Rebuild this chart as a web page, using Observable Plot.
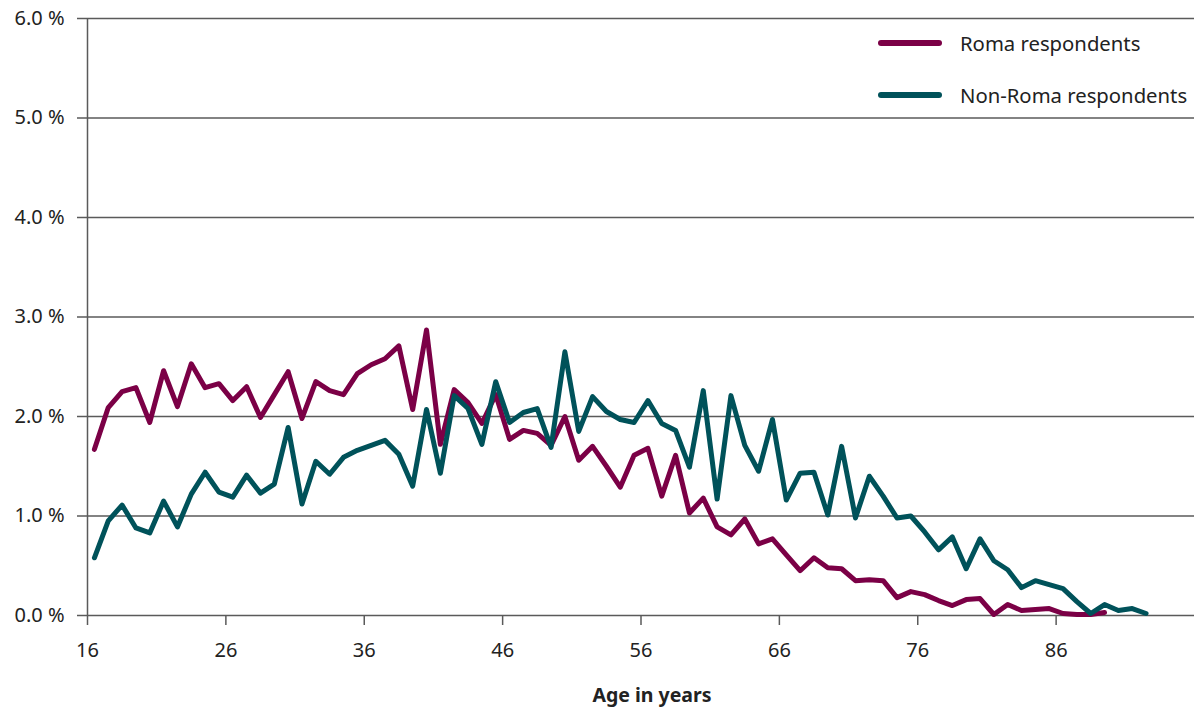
<!DOCTYPE html>
<html>
<head>
<meta charset="utf-8">
<script src="https://cdn.jsdelivr.net/npm/d3@7"></script>
<script src="https://cdn.jsdelivr.net/npm/@observablehq/plot@0.6"></script>
<style>
  body { margin: 0; background: #fff; }
  #wrap { position: relative; width: 1194px; height: 708px; font-family: "Noto Sans", sans-serif; color: #222; }
  .leg { position: absolute; display: flex; align-items: center; font-size: 20.3px; }
  .sw { width: 64px; height: 6px; border-radius: 3px; margin-right: 18px; }
  #xlabel { position: absolute; left: 0; width: 1304px; text-align: center; top: 681px; font-weight: bold; font-size: 19.5px; }
</style>
</head>
<body>
<div id="wrap"></div>
<script>
const seriesNames = ["Roma respondents", "Non-Roma respondents"];
const seriesColors = ["#7b0046", "#00525a"];

const romaAges = d3.range(16, 90);
const romaValues = [1.67, 2.09, 2.25, 2.29, 1.94, 2.46, 2.10, 2.53, 2.29, 2.33,
  2.16, 2.30, 1.99, 2.22, 2.45, 1.98, 2.35, 2.26, 2.22, 2.43,
  2.52, 2.58, 2.71, 2.07, 2.87, 1.72, 2.27, 2.14, 1.93, 2.22,
  1.77, 1.86, 1.83, 1.71, 2.00, 1.56, 1.70, 1.50, 1.29, 1.61,
  1.68, 1.20, 1.61, 1.03, 1.18, 0.89, 0.81, 0.97, 0.72, 0.77,
  0.61, 0.45, 0.58, 0.48, 0.47, 0.35, 0.36, 0.35, 0.18, 0.24,
  0.21, 0.15, 0.10, 0.16, 0.17, 0.01, 0.11, 0.05, 0.06, 0.07,
  0.02, 0.01, 0.01, 0.03];

const nonRomaAges = d3.range(16, 93);
const nonRomaValues = [0.58, 0.95, 1.11, 0.88, 0.83, 1.15, 0.89, 1.22, 1.44, 1.24,
  1.19, 1.41, 1.23, 1.32, 1.89, 1.12, 1.55, 1.42, 1.59, 1.66,
  1.71, 1.76, 1.62, 1.30, 2.07, 1.43, 2.21, 2.08, 1.72, 2.35,
  1.94, 2.04, 2.08, 1.69, 2.65, 1.85, 2.20, 2.05, 1.97, 1.94,
  2.16, 1.93, 1.86, 1.49, 2.26, 1.17, 2.21, 1.71, 1.45, 1.97,
  1.16, 1.43, 1.44, 1.01, 1.70, 0.98, 1.40, 1.20, 0.98, 1.00,
  0.84, 0.66, 0.79, 0.47, 0.77, 0.55, 0.46, 0.28, 0.35, 0.31,
  0.27, 0.14, 0.02, 0.11, 0.05, 0.07, 0.02];

const xTickLabels = [16, 26, 36, 46, 56, 66, 76, 86];
const yTicks = [0, 1, 2, 3, 4, 5, 6];
const xDomain = [15.5, 95.5];

const roma = romaAges.map((a, i) => ({age: a, value: romaValues[i], series: seriesNames[0]}));
const nonRoma = nonRomaAges.map((a, i) => ({age: a, value: nonRomaValues[i], series: seriesNames[1]}));
const xTicks = xTickLabels.map(v => v - 0.5);

const gridColor = "#5a5a5a";

const chart = Plot.plot({
  width: 1194,
  height: 708,
  marginTop: 18,
  marginBottom: 93,
  marginLeft: 87,
  marginRight: 0,
  style: {fontFamily: "'Noto Sans', sans-serif", fontSize: "20px", color: "#222", background: "#fff"},
  x: {domain: xDomain},
  y: {domain: [0, 6]},
  marks: [
    Plot.ruleY(yTicks, {stroke: gridColor, strokeWidth: 1.5}),
    Plot.ruleX([xDomain[0]], {stroke: gridColor, strokeWidth: 1.5}),
    Plot.axisY({ticks: yTicks, tickSize: 10, tickPadding: 13, tickFormat: d => d.toFixed(1) + " %", label: null, stroke: gridColor, strokeWidth: 1.5, fill: "#222", style: {letterSpacing: "0.6px"}}),
    Plot.axisX({ticks: xTicks, tickSize: 10, tickPadding: 17, tickFormat: d => String(d + 0.5), label: null, stroke: gridColor, strokeWidth: 1.5, fill: "#222"}),
    Plot.line(roma, {x: "age", y: "value", stroke: seriesColors[0], strokeWidth: 5, strokeLinejoin: "round", strokeLinecap: "round"}),
    Plot.line(nonRoma, {x: "age", y: "value", stroke: seriesColors[1], strokeWidth: 5, strokeLinejoin: "round", strokeLinecap: "round"})
  ]
});

const wrap = document.getElementById("wrap");
wrap.appendChild(chart);

const legendTops = [29, 81];
seriesNames.forEach((name, i) => {
  const d = document.createElement("div");
  d.className = "leg";
  d.style.left = "878px";
  d.style.top = legendTops[i] + "px";
  d.style.height = "28px";
  const sw = document.createElement("span");
  sw.className = "sw";
  sw.style.background = seriesColors[i];
  const t = document.createElement("span");
  t.textContent = name;
  d.appendChild(sw);
  d.appendChild(t);
  wrap.appendChild(d);
});

const xl = document.createElement("div");
xl.id = "xlabel";
xl.textContent = "Age in years";
wrap.appendChild(xl);
</script>
</body>
</html>
